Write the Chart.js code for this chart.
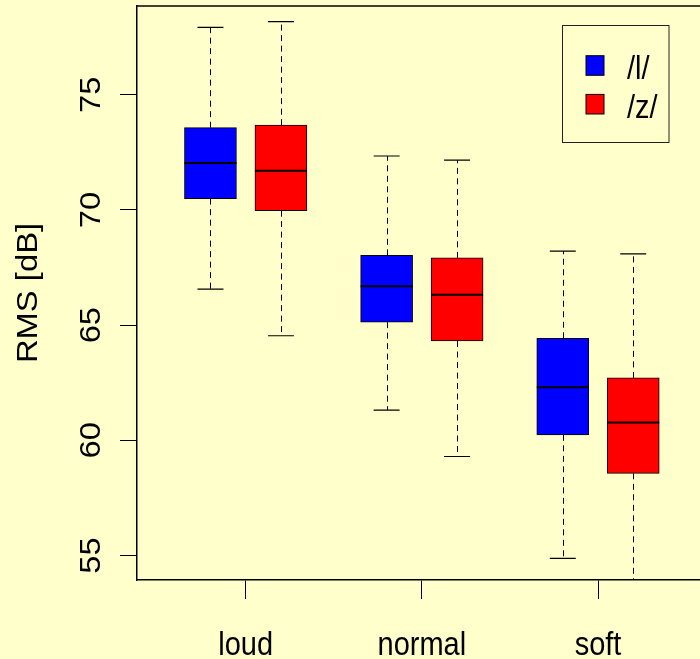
<!DOCTYPE html>
<html>
<head>
<meta charset="utf-8">
<title>RMS [dB]</title>
<script src="https://cdn.jsdelivr.net/npm/chart.js@4/dist/chart.umd.min.js"></script>
<style>
  html, body { margin: 0; padding: 0; background: #FFFFCC; overflow: hidden; }
  canvas { display: block; }
</style>
</head>
<body>
<canvas id="chart" width="700" height="659"></canvas>
<script>
// Loudness categories and series
const groups = ['loud', 'normal', 'soft'];
const seriesNames = ['/l/', '/z/'];
const seriesColors = ['#0000FF', '#FF0000'];

// Five-number summaries for /l/
const lMin = [66.56, 61.31, 54.88];
const lQ1  = [70.49, 65.13, 60.24];
const lMed = [72.04, 66.69, 62.30];
const lQ3  = [73.57, 68.03, 64.43];
const lMax = [77.92, 72.34, 68.21];

// Five-number summaries for /z/
const zMin = [64.54, 59.30, 53.30];
const zQ1  = [69.97, 64.31, 58.57];
const zMed = [71.70, 66.32, 60.78];
const zQ3  = [73.68, 67.92, 62.71];
const zMax = [78.17, 72.16, 68.09];

// Axis ticks
const yTicks = [55, 60, 65, 70, 75];
const yTitle = 'RMS [dB]';

const BG = '#FFFFCC';
const FONT = '29px "Liberation Sans", Arial, Helvetica, sans-serif';
const STRETCH_Y = 1.13;
const OFFSETS = [-0.2, 0.2];

function makeDataset(k, q1, med, q3, lo, hi) {
  return {
    label: seriesNames[k],
    data: groups.map((g, i) => ({ x: i + 1 + OFFSETS[k], y: [q1[i], q3[i]] })),
    stats: { lo, med, hi },
    backgroundColor: seriesColors[k],
    borderColor: '#000',
    borderWidth: 1,
    borderSkipped: false,
    barThickness: 52,
    grouped: false
  };
}

function drawText(ctx, text, x, y, rotate, align) {
  ctx.save();
  ctx.translate(x, y);
  ctx.scale(1, STRETCH_Y);
  if (rotate) ctx.rotate(-Math.PI / 2);
  ctx.font = FONT;
  ctx.fillStyle = '#000';
  ctx.textAlign = align;
  ctx.textBaseline = 'alphabetic';
  ctx.fillText(text, 0, 0);
  ctx.restore();
}

const backgroundPlugin = {
  id: 'background',
  beforeDraw(chart) {
    const ctx = chart.ctx;
    ctx.save();
    ctx.fillStyle = BG;
    ctx.fillRect(0, 0, chart.width, chart.height);
    ctx.restore();
  }
};

// Whiskers, caps and medians for each box
const boxPlugin = {
  id: 'boxParts',
  afterDatasetsDraw(chart) {
    const ctx = chart.ctx;
    const ys = chart.scales.y;
    const area = chart.chartArea;
    ctx.save();
    ctx.beginPath();
    ctx.rect(area.left, area.top, area.right - area.left, area.bottom - area.top);
    ctx.clip();
    chart.data.datasets.forEach((ds, d) => {
      const meta = chart.getDatasetMeta(d);
      meta.data.forEach((bar, i) => {
        const x = bar.x;
        const half = bar.width / 2;
        const yLo = ys.getPixelForValue(ds.stats.lo[i]);
        const yHi = ys.getPixelForValue(ds.stats.hi[i]);
        const yQ1 = ys.getPixelForValue(ds.data[i].y[0]);
        const yQ3 = ys.getPixelForValue(ds.data[i].y[1]);
        const yMed = ys.getPixelForValue(ds.stats.med[i]);
        const xs = Math.round(x) + 0.5;

        // dashed whiskers
        ctx.strokeStyle = '#000';
        ctx.lineWidth = 1;
        ctx.setLineDash([6, 4.5]);
        ctx.beginPath();
        ctx.moveTo(xs, yQ3); ctx.lineTo(xs, yHi);
        ctx.moveTo(xs, yQ1); ctx.lineTo(xs, yLo);
        ctx.stroke();

        // caps
        ctx.setLineDash([]);
        ctx.lineWidth = 1.2;
        ctx.beginPath();
        ctx.moveTo(x - half / 2, yHi); ctx.lineTo(x + half / 2, yHi);
        ctx.moveTo(x - half / 2, yLo); ctx.lineTo(x + half / 2, yLo);
        ctx.stroke();

        // median
        ctx.lineWidth = 2;
        ctx.beginPath();
        ctx.moveTo(x - half, yMed); ctx.lineTo(x + half, yMed);
        ctx.stroke();
      });
    });
    ctx.restore();
  }
};

// Frame top, tick labels, axis title and legend
const labelPlugin = {
  id: 'labels',
  afterDraw(chart) {
    const ctx = chart.ctx;
    const area = chart.chartArea;
    const xs = chart.scales.x;
    const ys = chart.scales.y;

    ctx.save();
    ctx.strokeStyle = '#000';
    ctx.lineWidth = 1.5;
    ctx.beginPath();
    ctx.moveTo(area.left, area.top);
    ctx.lineTo(area.right, area.top);
    ctx.stroke();
    ctx.restore();

    ys.ticks.forEach(t => {
      drawText(ctx, String(t.value), 99.5, ys.getPixelForValue(t.value), true, 'center');
    });
    xs.ticks.forEach((t, i) => {
      drawText(ctx, groups[i], xs.getPixelForValue(t.value), 655, false, 'center');
    });
    drawText(ctx, yTitle, 37, (area.top + area.bottom) / 2, true, 'center');

    // legend
    ctx.save();
    ctx.strokeStyle = '#222';
    ctx.lineWidth = 1;
    ctx.strokeRect(562.5, 25.5, 106.5, 117);
    const rows = [65.5, 104.2];
    seriesNames.forEach((name, k) => {
      ctx.fillStyle = seriesColors[k];
      ctx.fillRect(586, rows[k] - 9.8, 18, 19.6);
      ctx.strokeStyle = '#000';
      ctx.strokeRect(586, rows[k] - 9.8, 18, 19.6);
      drawText(ctx, name, 627, rows[k] + 13.5, false, 'left');
    });
    ctx.restore();
  }
};

new Chart(document.getElementById('chart'), {
  type: 'bar',
  data: {
    datasets: [
      makeDataset(0, lQ1, lMed, lQ3, lMin, lMax),
      makeDataset(1, zQ1, zMed, zQ3, zMin, zMax)
    ]
  },
  options: {
    responsive: false,
    devicePixelRatio: 1,
    animation: false,
    layout: { padding: { top: 6, right: 0, bottom: 0, left: 0 } },
    plugins: { legend: { display: false }, tooltip: { enabled: false } },
    scales: {
      x: {
        type: 'linear',
        offset: false,
        min: 0.383,
        max: 3.579,
        afterBuildTicks(scale) { scale.ticks = groups.map((g, i) => ({ value: i + 1 })); },
        afterFit(scale) { scale.height = 79; },
        ticks: { display: false },
        grid: { offset: false, drawOnChartArea: false, drawTicks: true, tickLength: 19, color: '#000', tickWidth: 1 },
        border: { display: true, color: '#000', width: 1.5 }
      },
      y: {
        type: 'linear',
        min: 53.94,
        max: 78.85,
        afterBuildTicks(scale) { scale.ticks = yTicks.map(v => ({ value: v })); },
        afterFit(scale) { scale.width = 137; },
        ticks: { display: false },
        grid: { drawOnChartArea: false, drawTicks: true, tickLength: 17, color: '#000', tickWidth: 1 },
        border: { display: true, color: '#000', width: 1.5 }
      }
    }
  },
  plugins: [backgroundPlugin, boxPlugin, labelPlugin]
});
</script>
</body>
</html>
